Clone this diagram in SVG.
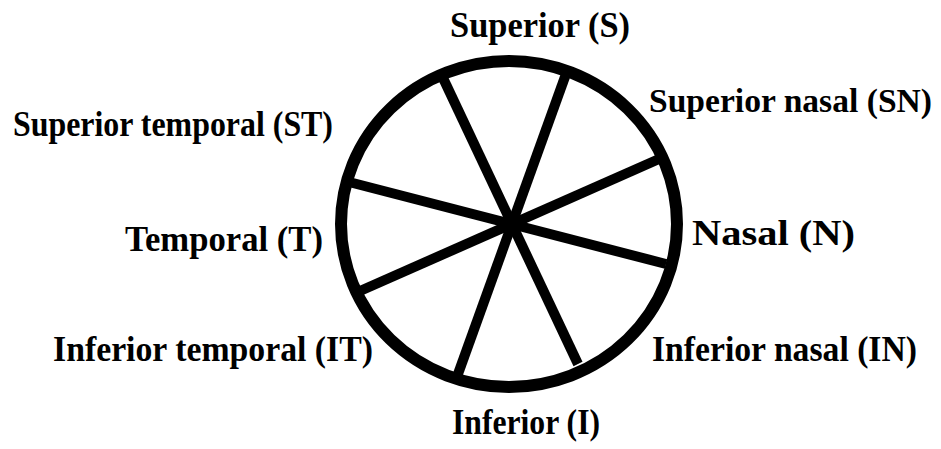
<svg xmlns="http://www.w3.org/2000/svg" width="941" height="449" viewBox="0 0 941 449">
<style>
.lbl{font-family:"Liberation Serif","Times New Roman",serif;font-weight:bold;font-size:36px;fill:#000}
.spoke{stroke:#000;stroke-width:10;fill:none}
</style>
<rect width="941" height="449" fill="#fff"/>
<g id="connectors">
<line class="spoke" x1="443" y1="78" x2="578" y2="364"/>
<line class="spoke" x1="566" y1="74" x2="458" y2="374"/>
<line class="spoke" x1="659" y1="159" x2="360" y2="291"/>
<line class="spoke" x1="666" y1="264" x2="349" y2="182"/>
</g>
<g id="wheel">
<ellipse cx="509" cy="224" rx="168" ry="163" fill="none" stroke="#000" stroke-width="12"/>
</g>
<g id="S"><text class="lbl" x="450" y="37" textLength="180" lengthAdjust="spacingAndGlyphs">Superior (S)</text></g>
<g id="ST"><text class="lbl" x="13" y="136" textLength="320" lengthAdjust="spacingAndGlyphs">Superior temporal (ST)</text></g>
<g id="SN"><text class="lbl" x="649" y="112" font-size="34" style="font-size:34px" textLength="283" lengthAdjust="spacingAndGlyphs">Superior nasal (SN)</text></g>
<g id="T"><text class="lbl" x="125" y="251" textLength="198" lengthAdjust="spacingAndGlyphs">Temporal (T)</text></g>
<g id="N"><text class="lbl" x="692" y="245" textLength="163" lengthAdjust="spacingAndGlyphs">Nasal (N)</text></g>
<g id="IT"><text class="lbl" x="53" y="361" textLength="320" lengthAdjust="spacingAndGlyphs">Inferior temporal (IT)</text></g>
<g id="IN"><text class="lbl" x="652" y="361" textLength="265" lengthAdjust="spacingAndGlyphs">Inferior nasal (IN)</text></g>
<g id="I"><text class="lbl" x="452" y="434" textLength="148" lengthAdjust="spacingAndGlyphs">Inferior (I)</text></g>
</svg>
